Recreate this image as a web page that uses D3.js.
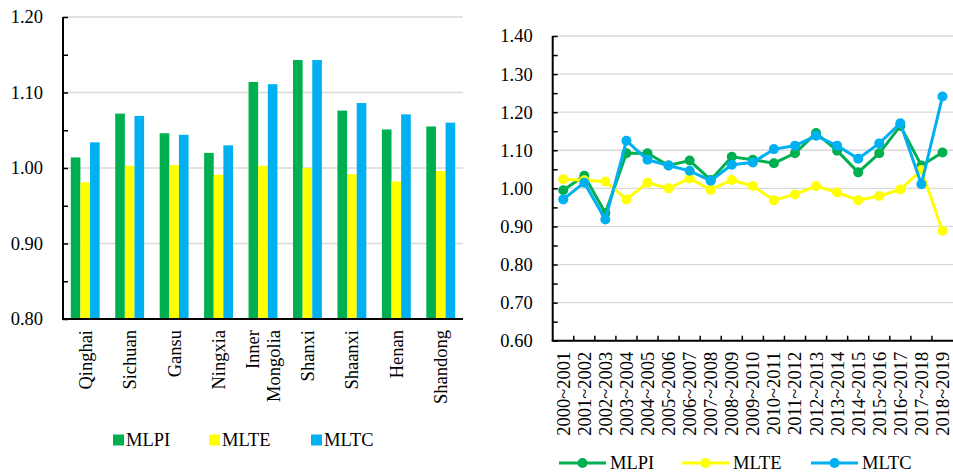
<!DOCTYPE html>
<html><head><meta charset="utf-8">
<script src="https://cdn.jsdelivr.net/npm/d3@7/dist/d3.min.js"></script>
<style>body{margin:0;background:#fff;} svg{display:block;} svg text{font-family:"Liberation Serif","Times New Roman",Times,serif;font-size:18.5px;fill:#000;}</style>
</head><body>
<svg id="c" width="953" height="475"></svg>
<script>
const seriesNames = ["MLPI", "MLTE", "MLTC"];
const colors = ["#00B050", "#FFFF00", "#00B0F0"];

// Left chart (bars)
const provinces = ["Qinghai", "Sichuan", "Gansu", "Ningxia", "Inner Mongolia", "Shanxi", "Shaanxi", "Henan", "Shandong"];
const barMLPI = [1.014, 1.072, 1.046, 1.020, 1.114, 1.143, 1.076, 1.051, 1.055];
const barMLTE = [0.981, 1.003, 1.004, 0.991, 1.003, 1.000, 0.992, 0.982, 0.996];
const barMLTC = [1.034, 1.069, 1.044, 1.030, 1.111, 1.143, 1.086, 1.071, 1.060];
const leftTicks = [0.80, 0.90, 1.00, 1.10, 1.20];

// Right chart (lines)
const periods = ["2000~2001","2001~2002","2002~2003","2003~2004","2004~2005","2005~2006","2006~2007","2007~2008","2008~2009","2009~2010","2010~2011","2011~2012","2012~2013","2013~2014","2014~2015","2015~2016","2016~2017","2017~2018","2018~2019"];
const lineMLPI = [0.995, 1.033, 0.935, 1.092, 1.092, 1.060, 1.073, 1.022, 1.083, 1.075, 1.066, 1.092, 1.145, 1.099, 1.042, 1.092, 1.164, 1.060, 1.094];
const lineMLTE = [1.024, 1.021, 1.018, 0.971, 1.015, 1.000, 1.026, 0.996, 1.022, 1.006, 0.969, 0.984, 1.006, 0.989, 0.969, 0.980, 0.997, 1.048, 0.889];
const lineMLTC = [0.971, 1.015, 0.918, 1.125, 1.075, 1.060, 1.046, 1.020, 1.062, 1.068, 1.103, 1.112, 1.138, 1.112, 1.078, 1.118, 1.171, 1.011, 1.241];
const rightTicks = [0.60, 0.70, 0.80, 0.90, 1.00, 1.10, 1.20, 1.30, 1.40];

const svg = d3.select("#c");

// ---------- Left bar chart ----------
{
  const L = 63, R = 463, T = 17, B = 319;
  const x = d3.scaleBand().domain(provinces).range([L, R]).paddingInner(0.35).paddingOuter(0.175);
  const xs = d3.scaleBand().domain(seriesNames).range([0, x.bandwidth()]);
  const y = d3.scaleLinear().domain([0.8, 1.2]).range([B, T]);
  const g = svg.append("g");
  g.selectAll(".grid").data(leftTicks).enter().append("line")
    .attr("x1", L).attr("x2", R).attr("y1", d => y(d)).attr("y2", d => y(d))
    .attr("stroke", "#D9D9D9").attr("stroke-width", 1.3);
  const data = [barMLPI, barMLTE, barMLTC];
  seriesNames.forEach((s, si) => {
    g.selectAll(".b" + si).data(provinces).enter().append("rect")
      .attr("x", d => x(d) + xs(s))
      .attr("width", xs.bandwidth())
      .attr("y", (d, i) => y(data[si][i]))
      .attr("height", (d, i) => y(0.8) - y(data[si][i]))
      .attr("fill", colors[si]);
  });
  const yAxis = d3.axisRight(y).tickValues(d3.range(0.8, 1.2001, 0.05)).tickSize(5).tickFormat("");
  const ya = g.append("g").attr("transform", `translate(${L},0)`).call(yAxis);
  ya.select(".domain").attr("stroke", "#000").attr("stroke-width", 2).attr("d", `M0,${T}V${B}`);
  ya.selectAll(".tick line").attr("stroke", "#000").attr("stroke-width", 1.5);
  g.selectAll(".yl").data(leftTicks).enter().append("text")
    .attr("x", L - 20).attr("y", d => y(d)).attr("dy", "0.35em")
    .attr("text-anchor", "end")
    .text(d => d.toFixed(2));
  g.append("line").attr("x1", L - 1).attr("x2", R).attr("y1", B).attr("y2", B)
    .attr("stroke", "#000").attr("stroke-width", 2);
  provinces.forEach(p => {
    const cx = x(p) + x.bandwidth() / 2;
    const parts = p === "Inner Mongolia" ? ["Inner", "Mongolia"] : [p];
    parts.forEach((t, k) => {
      const off = (k - (parts.length - 1) / 2) * 21;
      g.append("text")
        .attr("transform", `translate(${cx + off},${B + 11}) rotate(-90)`)
        .attr("dy", "0.35em").attr("text-anchor", "end").text(t);
    });
  });
  const lx = [113, 209, 311];
  seriesNames.forEach((s, i) => {
    g.append("rect").attr("x", lx[i]).attr("y", 434.5).attr("width", 11).attr("height", 11).attr("fill", colors[i]);
    g.append("text").attr("x", lx[i] + 13).attr("y", 440).attr("dy", "0.35em").text(s);
  });
}

// ---------- Right line chart ----------
{
  const L = 552.7, R = 953, T = 36, B = 340.7;
  const x = d3.scaleBand().domain(periods).range([L, R]);
  const y = d3.scaleLinear().domain([0.6, 1.4]).range([B, T]);
  const g = svg.append("g");
  g.selectAll(".grid").data(rightTicks).enter().append("line")
    .attr("x1", L).attr("x2", R).attr("y1", d => y(d)).attr("y2", d => y(d))
    .attr("stroke", "#D9D9D9").attr("stroke-width", 1.3);
  const yAxis = d3.axisRight(y).tickValues(d3.range(0.6, 1.4001, 0.05)).tickSize(5).tickFormat("");
  const ya = g.append("g").attr("transform", `translate(${L},0)`).call(yAxis);
  ya.select(".domain").attr("stroke", "#000").attr("stroke-width", 2).attr("d", `M0,${T}V${B}`);
  ya.selectAll(".tick line").attr("stroke", "#000").attr("stroke-width", 1.5);
  g.selectAll(".yl").data(rightTicks).enter().append("text")
    .attr("x", L - 20).attr("y", d => y(d)).attr("dy", "0.35em")
    .attr("text-anchor", "end")
    .text(d => d.toFixed(2));
  g.append("line").attr("x1", L - 1).attr("x2", R).attr("y1", B).attr("y2", B)
    .attr("stroke", "#000").attr("stroke-width", 2);
  g.selectAll(".xt").data(periods.slice(1)).enter().append("line")
    .attr("x1", d => x(d)).attr("x2", d => x(d)).attr("y1", B).attr("y2", B - 5)
    .attr("stroke", "#000").attr("stroke-width", 1.5);
  g.selectAll(".xl").data(periods).enter().append("text")
    .attr("transform", d => `translate(${x(d) + x.bandwidth() / 2},${B + 11}) rotate(-90)`)
    .attr("dy", "0.35em").attr("text-anchor", "end").text(d => d);
  const data = [lineMLPI, lineMLTE, lineMLTC];
  const line = d3.line().x((d, i) => x(periods[i]) + x.bandwidth() / 2).y(d => y(d));
  data.forEach((arr, si) => {
    g.append("path").attr("d", line(arr)).attr("fill", "none")
      .attr("stroke", colors[si]).attr("stroke-width", 3);
    g.selectAll(".p" + si).data(arr).enter().append("circle")
      .attr("cx", (d, i) => x(periods[i]) + x.bandwidth() / 2).attr("cy", d => y(d))
      .attr("r", 5).attr("fill", colors[si]);
  });
  const lx = [559, 682, 811];
  seriesNames.forEach((s, i) => {
    g.append("line").attr("x1", lx[i]).attr("x2", lx[i] + 47).attr("y1", 463).attr("y2", 463)
      .attr("stroke", colors[i]).attr("stroke-width", 3);
    g.append("circle").attr("cx", lx[i] + 23.5).attr("cy", 463).attr("r", 5).attr("fill", colors[i]);
    g.append("text").attr("x", lx[i] + 51).attr("y", 463).attr("dy", "0.35em").text(s);
  });
}
</script>
</body></html>
